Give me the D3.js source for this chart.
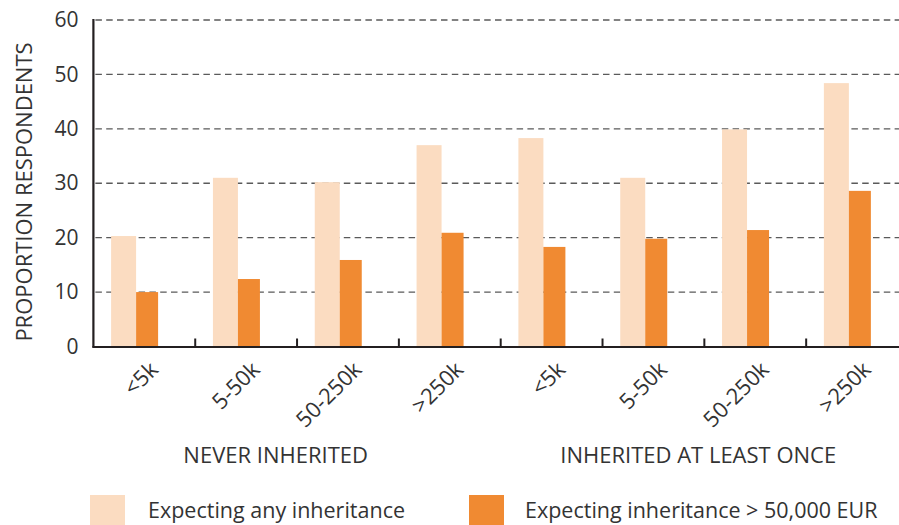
<!DOCTYPE html>
<html>
<head>
<meta charset="utf-8">
<script src="https://cdn.jsdelivr.net/npm/d3@7"></script>
<style>
  html, body { margin: 0; padding: 0; background: #fff; }
  text { font-family: "Open Sans", "Noto Sans", sans-serif; fill: #333; }
</style>
</head>
<body>
<svg id="chart" width="899" height="525"></svg>
<script>
// ---- data ----
const categories = ["<5k", "5-50k", "50-250k", ">250k", "<5k", "5-50k", "50-250k", ">250k"];
const groups = ["NEVER INHERITED", "INHERITED AT LEAST ONCE"];
const seriesNames = ["Expecting any inheritance", "Expecting inheritance > 50,000 EUR"];
const anyInheritance = [20.3, 31.0, 30.2, 37.0, 38.3, 31.0, 39.9, 48.4];
const over50k = [10.0, 12.4, 15.9, 20.9, 18.3, 19.8, 21.4, 28.6];
const yTicks = [0, 10, 20, 30, 40, 50, 60];
const yTitle = "PROPORTION RESPONDENTS";

// ---- layout ----
const svg = d3.select("#chart");
const colors = ["#FBDCC1", "#F08A32"];
const x0 = 93.4, x1End = 908, yTop = 20, yBottom = 346.5;

const idx = categories.map((_, i) => i);
const x = d3.scaleBand().domain(idx).range([x0, x1End]).paddingInner(0).paddingOuter(0);
const xs = d3.scaleBand().domain([0, 1]).range([17.7, 64.7]);
const y = d3.scaleLinear().domain([0, 60]).range([yBottom, yTop]);

// grid lines
svg.append("g").selectAll("line").data(yTicks.filter(t => t > 0)).join("line")
  .attr("x1", x0 + 2).attr("x2", 899)
  .attr("y1", d => y(d)).attr("y2", d => y(d))
  .attr("stroke", "#5a5a5a").attr("stroke-width", 1.4)
  .attr("stroke-dasharray", "6.5,4.3");

// bars
const series = [anyInheritance, over50k];
const gb = svg.append("g");
series.forEach((vals, s) => {
  gb.selectAll(null).data(vals).join("rect")
    .attr("x", (d, i) => x(i) + xs(s) + (s === 0 ? 0 : 1.5))
    .attr("width", xs.bandwidth() + (s === 0 ? 1.5 : -1.5))
    .attr("y", d => y(d))
    .attr("height", d => y(0) - y(d))
    .attr("fill", colors[s]);
});

// y axis
const yAxis = d3.axisLeft(y).tickValues(yTicks).tickSize(0).tickPadding(15);
const gy = svg.append("g").attr("transform", `translate(${x0},0)`).call(yAxis);
gy.select(".domain").remove();
gy.selectAll("text").style("font-size", "21px").attr("fill", "#333")
  .style("font-family", "'Open Sans', sans-serif");
svg.append("line").attr("x1", x0).attr("x2", x0).attr("y1", yTop - 1).attr("y2", yBottom + 1)
  .attr("stroke", "#231f20").attr("stroke-width", 2.2);

// x axis
svg.append("line").attr("x1", x0 - 1).attr("x2", 899).attr("y1", yBottom + 0.5).attr("y2", yBottom + 0.5)
  .attr("stroke", "#231f20").attr("stroke-width", 2.2);
svg.append("g").selectAll("line").data(idx.slice(1)).join("line")
  .attr("x1", d => x(d)).attr("x2", d => x(d))
  .attr("y1", yBottom).attr("y2", yBottom - 8)
  .attr("stroke", "#231f20").attr("stroke-width", 2);

// rotated category labels
svg.append("g").selectAll("text").data(categories).join("text")
  .attr("transform", (d, i) => `translate(${x(i) + x.bandwidth() / 2 + 15},371) rotate(-45)`)
  .attr("text-anchor", "end")
  .style("font-size", "22px")
  .text(d => d);

// group labels
const groupCenters = [x(1) + x.bandwidth() * 0.79, x(5) + x.bandwidth() * 0.94];
svg.append("g").selectAll("text").data(groups).join("text")
  .attr("x", (d, i) => groupCenters[i]).attr("y", 463)
  .attr("text-anchor", "middle")
  .style("font-size", "22px")
  .text(d => d);

// y title
svg.append("text")
  .attr("transform", "translate(32,192) rotate(-90)")
  .attr("text-anchor", "middle")
  .style("font-size", "22px")
  .text(yTitle);

// legend
const legX = [90, 469], legTextX = [148, 525];
const lg = svg.append("g");
seriesNames.forEach((name, s) => {
  lg.append("rect").attr("x", legX[s]).attr("y", 495).attr("width", 35).attr("height", 32).attr("fill", colors[s]);
  lg.append("text").attr("x", legTextX[s]).attr("y", 518).style("font-size", "21.5px").text(name);
});
</script>
</body>
</html>
